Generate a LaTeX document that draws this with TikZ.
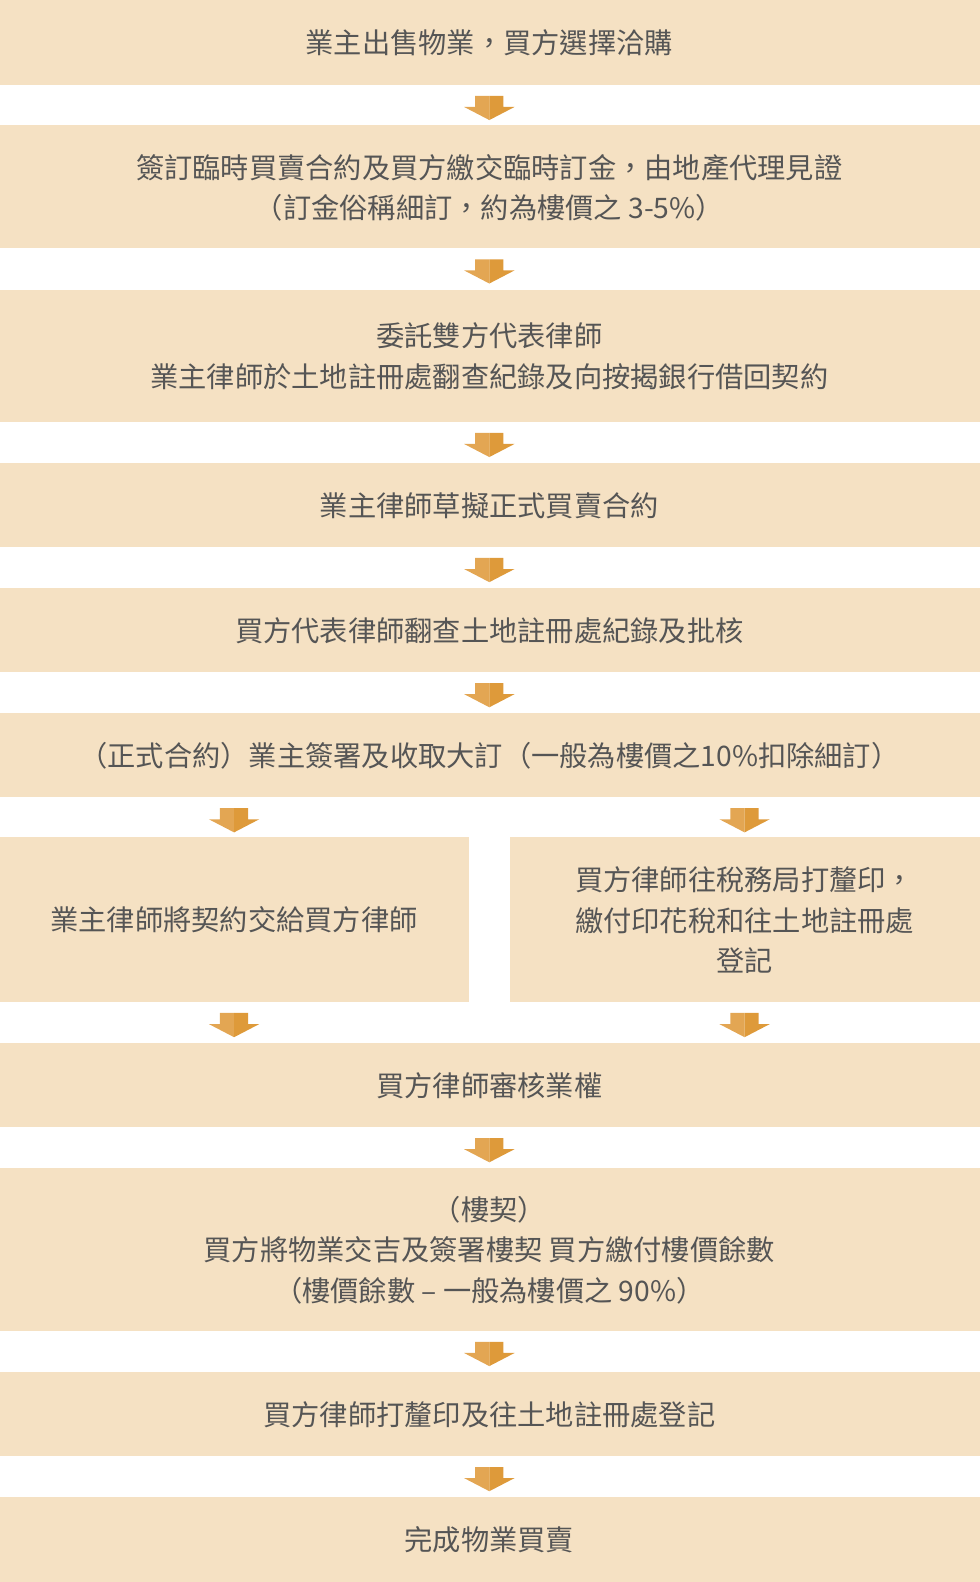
\documentclass[tikz,border=0pt]{standalone}
\usepackage{fontspec}
\setmainfont{Noto Sans CJK TC}
\begin{document}
\begin{tikzpicture}[x=0.75pt,y=-0.75pt,
  bx/.style={fill=boxc,draw=none},
  tx/.style={text=txtc,font=\fontsize{21}{30}\selectfont,align=center,inner sep=0},
]
\definecolor{boxc}{HTML}{F5E1C3}
\definecolor{txtc}{HTML}{555555}
\definecolor{arl}{HTML}{E3A653}
\definecolor{ard}{HTML}{DE9A3A}
\useasboundingbox (0,0) rectangle (971,1568);
\newcommand{\flowbox}[5]{\fill[boxc] (#1,#2) rectangle (#3,#4); \node[tx] (#5) at ({(#1+#3)/2},{(#2+#4)/2}) {};}
\newcommand{\darr}[2]{%
 \fill[arl] (#1-14,#2+11) -- (#1,#2+11) -- (#1,#2+35) -- (#1-25,#2+22) -- (#1-14,#2+22) -- cycle;
 \fill[ard] (#1+14,#2+11) -- (#1,#2+11) -- (#1,#2+35) -- (#1+25,#2+22) -- (#1+14,#2+22) -- cycle;}
\fill[boxc] (0,0) rectangle (971,84);
\node[tx] (b1) at (485,42) {業主出售物業，買方選擇洽購};
\fill[boxc] (0,124) rectangle (971,246);
\node[tx] (b2) at (485,186) {\fontsize{21}{40}\selectfont 簽訂臨時買賣合約及買方繳交臨時訂金，由地產代理見證\\（訂金俗稱細訂，約為樓價之 3-5\%）};
\fill[boxc] (0,287) rectangle (971,418);
\node[tx] (b3) at (485,353) {\fontsize{21}{50}\selectfont 委託雙方代表律師\\業主律師於土地註冊處翻查紀錄及向按揭銀行借回契約};
\fill[boxc] (0,459) rectangle (971,542);
\node[tx] (b4) at (485,501) {業主律師草擬正式買賣合約};
\fill[boxc] (0,583) rectangle (971,666);
\node[tx] (b5) at (485,625) {買方代表律師翻查土地註冊處紀錄及批核};
\fill[boxc] (0,707) rectangle (971,790);
\node[tx] (b6) at (485,749) {（正式合約）業主簽署及收取大訂（一般為樓價之10\%扣除細訂）};
\fill[boxc] (0,830) rectangle (465,993);
\node[tx] (b7a) at (232,912) {業主律師將契約交給買方律師};
\fill[boxc] (505,830) rectangle (971,993);
\node[tx] (b7b) at (738,912) {\fontsize{21}{39}\selectfont 買方律師往稅務局打釐印，\\繳付印花稅和往土地註冊處\\登記};
\fill[boxc] (0,1034) rectangle (971,1117);
\node[tx] (b8) at (485,1076) {買方律師審核業權};
\fill[boxc] (0,1158) rectangle (971,1319);
\node[tx] (b9) at (485,1239) {\fontsize{21}{40}\selectfont （樓契）\\買方將物業交吉及簽署樓契 買方繳付樓價餘數\\（樓價餘數 – 一般為樓價之 90\%）};
\fill[boxc] (0,1360) rectangle (971,1443);
\node[tx] (b10) at (485,1402) {買方律師打釐印及往土地註冊處登記};
\fill[boxc] (0,1484) rectangle (971,1568);
\node[tx] (b11) at (485,1526) {完成物業買賣};
\darr{485}{84}\darr{485}{246}\darr{485}{418}\darr{485}{542}\darr{485}{666}
\darr{232}{790}\darr{738}{790}\darr{232}{993}\darr{738}{993}
\darr{485}{1117}\darr{485}{1319}\darr{485}{1443}
\end{tikzpicture}
\end{document}
